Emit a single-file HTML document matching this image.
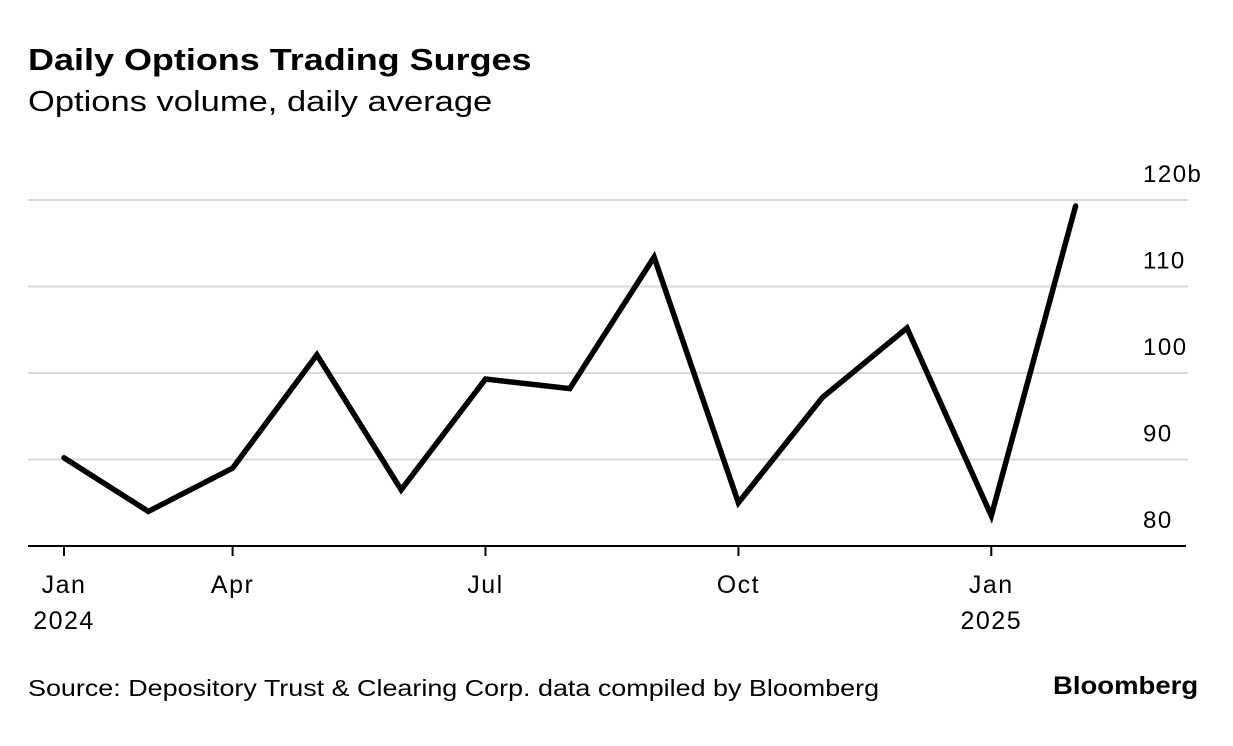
<!DOCTYPE html>
<html><head><meta charset="utf-8"><style>
body{margin:0;background:#fff;font-family:"Liberation Sans",sans-serif;}
#wrap{position:relative;width:1233px;height:746px;overflow:hidden;}
.t{position:absolute;white-space:nowrap;color:#000;transform-origin:0 0;}
</style></head><body>
<div id="wrap">
<div class="t" style="left:28px;top:42px;font-size:31px;font-weight:bold;transform:scaleX(1.16);">Daily Options Trading Surges</div>
<div class="t" style="left:28px;top:86px;font-size:29px;transform:scaleX(1.19);">Options volume, daily average</div>
<svg id="chart" width="1233" height="746" style="position:absolute;left:0;top:0"></svg>
<div class="t" style="left:28px;top:675px;font-size:23px;transform:scaleX(1.17);">Source: Depository Trust &amp; Clearing Corp. data compiled by Bloomberg</div>
<div class="t" style="left:1053px;top:672px;font-size:25px;font-weight:bold;transform:scaleX(1.1);">Bloomberg</div>
</div>
<script>
const months = ["Jan 2024","Feb","Mar","Apr","May","Jun","Jul","Aug","Sep","Oct","Nov","Dec","Jan 2025"];
const values = [90.2,84.0,89.0,102.1,86.5,99.3,98.2,113.4,85.0,97.2,105.2,83.5,119.3];
const yTicks = [80,90,100,110,120];
const yTickLabels = ["80","90","100","110","120b"];
const xTickIdx = [0,2,5,8,11];
const xTickLabels = [["Jan","2024"],["Apr"],["Jul"],["Oct"],["Jan","2025"]];
const NS="http://www.w3.org/2000/svg";
const svg=document.getElementById('chart');
function xS(i){return 64+84.3*i;}
function yS(v){return 546-(v-80)*8.65;}
function mk(tag,attrs){const e=document.createElementNS(NS,tag);for(const k in attrs)e.setAttribute(k,attrs[k]);svg.appendChild(e);return e;}
yTicks.forEach((v,k)=>{
  if(v>80){const g=mk('line',{x1:28,x2:1188,y1:yS(v),y2:yS(v),stroke:'#d9d9d9','stroke-width':2});
  
  }
  const t=mk('text',{x:1143,y:yS(v)-18,'text-anchor':'start','font-size':24,'letter-spacing':1.5,'font-family':'Liberation Sans, sans-serif',fill:'#000'});
  t.textContent=yTickLabels[k];
  
  
});
const ax=mk('line',{x1:28,x2:1186,y1:546,y2:546,stroke:'#000','stroke-width':2});


xTickIdx.forEach((i,k)=>{
  const tk=mk('line',{x1:xS(i),x2:xS(i),y1:546,y2:556,stroke:'#000','stroke-width':2});
  
  
  xTickLabels[k].forEach((s,j)=>{
    const t=mk('text',{x:xS(i),y:593+j*36,'text-anchor':'middle','font-size':25,'letter-spacing':1.5,'font-family':'Liberation Sans, sans-serif',fill:'#000'});
    t.textContent=s;
    
    
  });
});
const pts=values.map((v,i)=>xS(i)+','+yS(v)).join(' ');
const line=mk('polyline',{points:pts,fill:'none',stroke:'#000','stroke-width':5.5,'stroke-linejoin':'miter','stroke-linecap':'round'});


</script>
</body></html>
